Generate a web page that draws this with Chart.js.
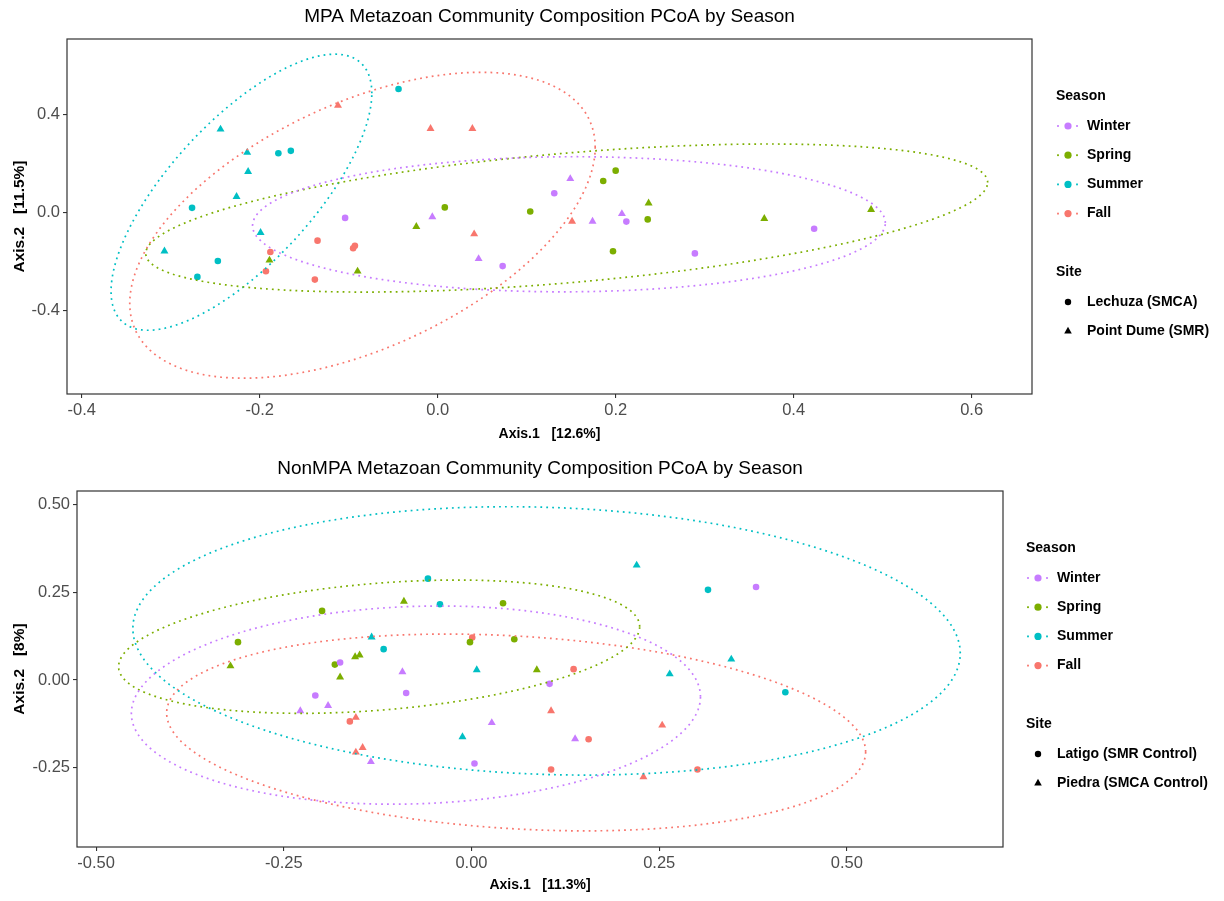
<!DOCTYPE html>
<html>
<head>
<meta charset="utf-8">
<script src="https://cdn.jsdelivr.net/npm/chart.js@4.4.1/dist/chart.umd.min.js"></script>
<style>
  html, body { margin: 0; padding: 0; background: #fff; }
  #wrap { position: relative; width: 1224px; height: 901px; overflow: hidden; background: #fff; }
  canvas { position: absolute; left: 0; }
</style>
</head>
<body>
<div id="wrap">
  <canvas id="mpa" width="1224" height="450" style="top:0px"></canvas>
  <canvas id="nonmpa" width="1224" height="451" style="top:450px"></canvas>
</div>
<script>
// ---- Seasons (shared) ----
const seasonNames  = ['Winter', 'Spring', 'Summer', 'Fall'];
const seasonColors = ['#C77CFF', '#7CAE00', '#00BFC4', '#F8766D'];

// ---- MPA ordination (site 0 = circle, site 1 = triangle) ----
const mpaSiteNames = ['Lechuza (SMCA)', 'Point Dume (SMR)'];
const mpaSeason = [2,2,2,2,2,2,2,2,2,2,2,2, 3,3,3,3,3,3,3,3,3,3,3, 1,1,1,1,1,1,1,1,1,1,1,1, 0,0,0,0,0,0,0,0,0,0,0];
const mpaSite   = [1,1,1,1,1,1,0,0,0,0,0,0, 1,1,1,1,1,0,0,0,0,0,0, 1,1,1,1,1,1,0,0,0,0,0,0, 1,1,1,1,1,0,0,0,0,0,0];
const mpaAxis1  = [-0.244,-0.214,-0.213,-0.226,-0.199,-0.307,-0.179,-0.165,-0.276,-0.247,-0.270,-0.044,
                   -0.112,-0.008,0.039,0.041,0.151,-0.135,-0.093,-0.095,-0.188,-0.193,-0.138,
                   -0.189,-0.090,-0.024,0.237,0.367,0.487,0.008,0.104,0.186,0.200,0.236,0.197,
                   -0.006,0.046,0.149,0.174,0.207,-0.104,0.073,0.131,0.212,0.289,0.423];
const mpaAxis2  = [0.339,0.244,0.166,0.064,-0.083,-0.159,0.241,0.251,0.018,-0.199,-0.264,0.504,
                   0.436,0.342,0.342,-0.089,-0.037,-0.116,-0.137,-0.147,-0.162,-0.241,-0.275,
                   -0.196,-0.241,-0.059,0.037,-0.026,0.011,0.020,0.003,0.128,0.170,-0.029,-0.159,
                   -0.019,-0.190,0.137,-0.037,-0.006,-0.023,-0.220,0.078,-0.038,-0.168,-0.067];
// 95% ellipse outlines per season (Winter, Spring, Summer, Fall): extents and tilt
const mpaEllXMin = [-0.208, -0.328, -0.367, -0.346];
const mpaEllXMax = [ 0.503,  0.618, -0.074,  0.177];
const mpaEllYMin = [-0.325, -0.326, -0.482, -0.678];
const mpaEllYMax = [ 0.227,  0.279,  0.646,  0.572];
const mpaEllTilt = [ 0.020,  0.480,  0.717,  0.510];
const mpaXRange = [-0.4165, 0.6678];
const mpaYRange = [-0.7425, 0.708];
const mpaXTicks = [-0.4, -0.2, 0.0, 0.2, 0.4, 0.6];
const mpaYTicks = [-0.4, 0.0, 0.4];

// ---- NonMPA ordination (site 0 = circle, site 1 = triangle) ----
const nonSiteNames = ['Latigo (SMR Control)', 'Piedra (SMCA Control)'];
const nonSeason = [1,1,1,1,1,1,1,1,1,1,1,1, 0,0,0,0,0,0,0,0,0,0,0,0, 2,2,2,2,2,2,2,2,2,2,2, 3,3,3,3,3,3,3,3,3,3,3,3];
const nonSite   = [0,0,1,0,1,1,1,1,0,0,0,1, 0,0,1,1,1,1,0,0,1,1,0,0, 1,0,0,0,1,1,1,0,1,1,0, 0,1,1,1,0,0,1,0,1,0,1,0];
const nonAxis1  = [-0.199,-0.311,-0.321,-0.182,-0.175,-0.155,-0.149,-0.090,0.042,-0.002,0.057,0.087,
                   -0.175,-0.208,-0.228,-0.191,-0.134,-0.092,-0.087,0.104,0.027,0.138,0.004,0.379,
                   -0.133,-0.117,-0.058,-0.042,0.007,-0.012,0.220,0.315,0.264,0.346,0.418,
                   -0.162,-0.154,-0.154,-0.145,0.001,0.136,0.106,0.156,0.254,0.106,0.229,0.301];
const nonAxis2  = [0.197,0.108,0.040,0.044,0.008,0.066,0.071,0.224,0.219,0.108,0.116,0.029,
                   0.050,-0.044,-0.088,-0.073,-0.233,0.023,-0.037,-0.011,-0.122,-0.168,-0.238,0.265,
                   0.122,0.088,0.289,0.216,0.029,-0.162,0.327,0.257,0.017,0.059,-0.035,
                   -0.118,-0.107,-0.206,-0.193,0.121,0.031,-0.088,-0.169,-0.129,-0.255,-0.276,-0.255];
const nonEllXMin = [-0.453, -0.470, -0.451, -0.406];
const nonEllXMax = [ 0.305,  0.224,  0.651,  0.525];
const nonEllYMin = [-0.354, -0.095, -0.271, -0.430];
const nonEllYMax = [ 0.211,  0.285,  0.494,  0.131];
const nonEllTilt = [ 0.084,  0.300, -0.093, -0.197];
const nonXRange = [-0.5254, 0.7079];
const nonYRange = [-0.476, 0.5388];
const nonXTicks = [-0.50, -0.25, 0.00, 0.25, 0.50];
const nonYTicks = [-0.25, 0.00, 0.25, 0.50];

const FONT = "'Liberation Sans', Arial, Helvetica, sans-serif";

// Outline of an ellipse given its bounding extents; tilt = cos of the phase
// between the horizontal and vertical oscillations.
function ellipseOutline(xmin, xmax, ymin, ymax, tilt) {
  const cx = (xmin + xmax) / 2, rx = (xmax - xmin) / 2;
  const cy = (ymin + ymax) / 2, ry = (ymax - ymin) / 2;
  const phi = Math.acos(Math.max(-1, Math.min(1, tilt)));
  const pts = [];
  for (let i = 0; i <= 240; i++) {
    const t = (i / 240) * Math.PI * 2;
    pts.push({ x: cx + rx * Math.cos(t), y: cy + ry * Math.cos(t - phi) });
  }
  return pts;
}

function buildDatasets(season, site, ax1, ax2, ell) {
  const sets = [];
  // ellipses
  for (let s = 0; s < seasonNames.length; s++) {
    sets.push({
      type: 'line',
      label: seasonNames[s] + ' ellipse',
      data: ellipseOutline(ell.xmin[s], ell.xmax[s], ell.ymin[s], ell.ymax[s], ell.tilt[s]),
      borderColor: seasonColors[s],
      borderWidth: 1.7,
      borderDash: [1.8, 4.1],
      pointRadius: 0,
      fill: false,
      tension: 0,
      order: 1
    });
  }
  // points by season and site
  for (let s = 0; s < seasonNames.length; s++) {
    for (let k = 0; k < 2; k++) {
      const pts = [];
      for (let i = 0; i < season.length; i++) {
        if (season[i] === s && site[i] === k) pts.push({ x: ax1[i], y: ax2[i] });
      }
      sets.push({
        type: 'scatter',
        label: seasonNames[s] + ' ' + k,
        data: pts,
        backgroundColor: seasonColors[s],
        borderColor: seasonColors[s],
        borderWidth: 0,
        pointStyle: k === 0 ? 'circle' : 'triangle',
        pointRadius: k === 0 ? 3.3 : 4.6,
        pointHoverRadius: k === 0 ? 3.3 : 4.6,
        order: 2
      });
    }
  }
  return sets;
}

const decorPlugin = {
  id: 'decor',
  afterDraw(chart) {
    const d = chart.options.plugins.decor;
    const ctx = chart.ctx;
    const a = chart.chartArea;
    ctx.save();
    // panel border
    ctx.strokeStyle = '#333333';
    ctx.lineWidth = 1.2;
    ctx.strokeRect(a.left, a.top, a.right - a.left, a.bottom - a.top);
    const cx = (a.left + a.right) / 2, cy = (a.top + a.bottom) / 2;
    // title
    ctx.fillStyle = '#000';
    ctx.textAlign = 'center';
    ctx.textBaseline = 'middle';
    ctx.font = '19px ' + FONT;
    ctx.fillText(d.title, cx, d.titleY);
    // axis titles
    ctx.font = 'bold 14px ' + FONT;
    ctx.fillText(d.xTitle, cx, d.xTitleY);
    ctx.save();
    ctx.font = 'bold 15.5px ' + FONT;
    ctx.translate(d.yTitleX, cy);
    ctx.rotate(-Math.PI / 2);
    ctx.fillText(d.yTitle, 0, 0);
    ctx.restore();
    // legend
    const L = d.legend;
    ctx.textAlign = 'left';
    ctx.font = 'bold 14px ' + FONT;
    ctx.fillText('Season', L.x, L.seasonY);
    for (let s = 0; s < seasonNames.length; s++) {
      const y = L.seasonY + L.firstGap + s * L.step;
      ctx.fillStyle = seasonColors[s];
      ctx.fillRect(L.x + 2 - 0.9, y - 0.9, 1.8, 1.8);
      ctx.fillRect(L.x + 21 - 0.9, y - 0.9, 1.8, 1.8);
      ctx.beginPath();
      ctx.arc(L.x + 12, y, 3.6, 0, Math.PI * 2);
      ctx.fill();
      ctx.fillStyle = '#000';
      ctx.fillText(seasonNames[s], L.x + 31, y);
    }
    ctx.fillText('Site', L.x, L.siteY);
    for (let k = 0; k < 2; k++) {
      const y = L.siteY + L.firstGap + k * L.step;
      ctx.fillStyle = '#000';
      ctx.beginPath();
      if (k === 0) {
        ctx.arc(L.x + 12, y, 3.2, 0, Math.PI * 2);
      } else {
        const r = 4.4;
        ctx.moveTo(L.x + 12, y - r);
        ctx.lineTo(L.x + 12 + r * 0.866, y + r * 0.5);
        ctx.lineTo(L.x + 12 - r * 0.866, y + r * 0.5);
        ctx.closePath();
      }
      ctx.fill();
      ctx.fillText(d.siteNames[k], L.x + 31, y);
    }
    ctx.restore();
  }
};

function makeChart(id, cfg) {
  const ell = { xmin: cfg.ellXMin, xmax: cfg.ellXMax, ymin: cfg.ellYMin, ymax: cfg.ellYMax, tilt: cfg.ellTilt };
  return new Chart(document.getElementById(id), {
    type: 'scatter',
    data: { datasets: buildDatasets(cfg.season, cfg.site, cfg.ax1, cfg.ax2, ell) },
    plugins: [decorPlugin],
    options: {
      responsive: false,
      animation: false,
      devicePixelRatio: 1,
      layout: { padding: { left: 0, top: cfg.area.top, right: cfg.canvasW - cfg.area.right, bottom: 0 } },
      plugins: {
        legend: { display: false },
        tooltip: { enabled: false },
        title: { display: false },
        decor: cfg.decor
      },
      scales: {
        x: {
          type: 'linear',
          min: cfg.xRange[0], max: cfg.xRange[1],
          afterBuildTicks: s => { s.ticks = cfg.xTicks.map(v => ({ value: v })); },
          afterFit: s => { s.height = cfg.canvasH - cfg.area.bottom; },
          ticks: {
            callback: v => v.toFixed(cfg.digits),
            font: { family: FONT, size: 16.5 },
            color: '#4D4D4D',
            padding: 3,
            maxRotation: 0, autoSkip: false
          },
          grid: { display: true, drawOnChartArea: false, drawTicks: true, tickLength: 4, color: '#333333', lineWidth: 1.1 },
          border: { display: false }
        },
        y: {
          type: 'linear',
          min: cfg.yRange[0], max: cfg.yRange[1],
          afterBuildTicks: s => { s.ticks = cfg.yTicks.map(v => ({ value: v })); },
          afterFit: s => { s.width = cfg.area.left; },
          ticks: {
            callback: v => v.toFixed(cfg.digits),
            font: { family: FONT, size: 16.5 },
            color: '#4D4D4D',
            padding: 3,
            autoSkip: false
          },
          grid: { display: true, drawOnChartArea: false, drawTicks: true, tickLength: 4, color: '#333333', lineWidth: 1.1 },
          border: { display: false }
        }
      }
    }
  });
}

makeChart('mpa', {
  canvasW: 1224, canvasH: 450,
  area: { left: 67, right: 1032, top: 39, bottom: 394 },
  season: mpaSeason, site: mpaSite, ax1: mpaAxis1, ax2: mpaAxis2,
  ellXMin: mpaEllXMin, ellXMax: mpaEllXMax, ellYMin: mpaEllYMin, ellYMax: mpaEllYMax, ellTilt: mpaEllTilt,
  xRange: mpaXRange, yRange: mpaYRange, xTicks: mpaXTicks, yTicks: mpaYTicks, digits: 1,
  decor: {
    title: 'MPA Metazoan Community Composition PCoA by Season',
    titleY: 17,
    xTitle: 'Axis.1   [12.6%]', xTitleY: 434,
    yTitle: 'Axis.2   [11.5%]', yTitleX: 20,
    siteNames: mpaSiteNames,
    legend: { x: 1056, seasonY: 96, firstGap: 30, step: 29.2, siteY: 272 }
  }
});

makeChart('nonmpa', {
  canvasW: 1224, canvasH: 451,
  area: { left: 77, right: 1003, top: 41, bottom: 397 },
  season: nonSeason, site: nonSite, ax1: nonAxis1, ax2: nonAxis2,
  ellXMin: nonEllXMin, ellXMax: nonEllXMax, ellYMin: nonEllYMin, ellYMax: nonEllYMax, ellTilt: nonEllTilt,
  xRange: nonXRange, yRange: nonYRange, xTicks: nonXTicks, yTicks: nonYTicks, digits: 2,
  decor: {
    title: 'NonMPA Metazoan Community Composition PCoA by Season',
    titleY: 19,
    xTitle: 'Axis.1   [11.3%]', xTitleY: 435,
    yTitle: 'Axis.2   [8%]', yTitleX: 20,
    siteNames: nonSiteNames,
    legend: { x: 1026, seasonY: 98, firstGap: 30, step: 29.2, siteY: 274 }
  }
});
</script>
</body>
</html>
